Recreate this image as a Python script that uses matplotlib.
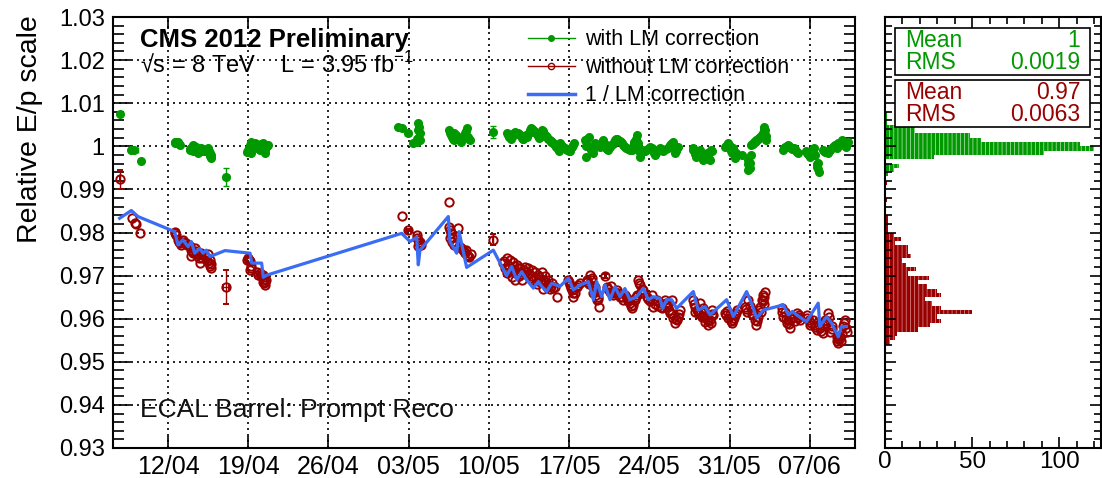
import datetime
import numpy as np
import matplotlib
matplotlib.use('Agg')
import matplotlib.pyplot as plt
import matplotlib.dates as mdates
from matplotlib.lines import Line2D
from matplotlib.patches import Rectangle
from matplotlib.ticker import MultipleLocator

plt.rcParams['font.family'] = ['Liberation Sans', 'DejaVu Sans']
plt.rcParams['mathtext.fontset'] = 'custom'
plt.rcParams['mathtext.rm'] = 'Liberation Sans'
plt.rcParams['hatch.linewidth'] = 0.6

# time in days since 12/04/2012
t0 = mdates.date2num(datetime.datetime(2012, 4, 12))

# E/p without laser monitoring correction
raw_day = [-3.17, -2.88, -2.75, -2.44,
           0.58, 0.73, 0.87, 1.02, 1.15, 1.31, 1.60, 1.89, 2.00, 2.04, 2.18, 2.33, 2.47, 2.62,
           2.76, 2.91, 3.00, 3.20, 3.40, 3.49, 3.64, 3.78, 3.78,
           6.87, 6.98, 7.13, 7.16, 7.27, 7.74, 7.88, 8.00, 8.15, 8.29, 8.29, 8.40, 8.44, 8.58,
           20.39, 21.70, 21.80, 21.85, 21.90, 22.00, 22.10,
           24.50, 24.55, 24.60, 24.65, 24.70, 24.80, 25.00, 25.33, 25.50, 25.70, 25.90, 26.00,
           26.10, 26.30, 26.40,
           29.27, 29.41, 29.56, 29.56, 29.85, 29.99, 30.00, 30.14, 30.28, 30.43, 30.57, 30.60,
           30.72, 30.87,
           31.16, 31.30, 31.45, 31.60, 31.74, 31.88, 32.03, 32.20, 32.32, 32.47, 32.61, 32.75,
           32.90, 33.05, 33.19, 33.30, 33.48, 33.77, 33.92,
           34.94, 35.08, 35.23, 35.37, 35.50, 35.66, 35.96,
           36.54, 36.70, 36.83, 36.97, 37.12, 37.26, 37.41, 37.56, 37.64,
           38.28, 38.57, 38.70, 38.86, 39.16, 39.30, 39.45, 39.74, 39.90, 40.03, 40.32, 40.46,
           40.60, 40.76, 40.90,
           41.05, 41.19, 41.30, 41.48,
           41.77, 42.06, 42.20, 42.36, 42.65, 42.80, 42.94, 43.08,
           43.37, 43.52, 43.65, 43.81, 43.95, 44.10, 44.25, 44.40, 44.54, 44.68,
           45.85, 45.99, 46.00, 46.28, 46.43, 46.57, 46.70, 46.86, 47.00, 47.15, 47.30, 47.45,
           47.59,
           48.61, 48.90, 49.00, 49.19, 49.30, 49.48, 49.63,
           50.35, 50.50, 50.64, 50.94, 51.08, 51.20, 51.31, 51.52, 51.66, 51.75, 51.81, 51.90,
           51.95, 52.10,
           53.55, 53.70, 53.84, 54.00, 54.13, 54.28, 54.57, 54.70, 54.86, 55.00, 55.15,
           55.73, 55.90, 56.03, 56.32, 56.45, 56.61,
           56.90, 57.13, 57.20, 57.33, 57.50, 57.63, 57.80, 57.92,
           58.35, 58.40, 58.50, 58.64, 58.80, 58.93, 59.08, 59.23,
           0.65, 0.95, 1.40, 1.70, 2.10, 2.40, 2.70, 3.10, 3.30, 3.55, 3.70,
           7.05, 7.20, 8.10, 8.35, 8.50, 21.75, 21.95, 24.75, 25.10, 25.60, 25.80, 26.20,
           29.35, 29.70, 29.90, 30.20, 30.35, 30.50, 30.80, 31.05, 31.20, 31.50, 31.80, 32.10,
           32.40, 32.55, 32.85, 33.00, 33.15, 33.40, 33.60,
           35.00, 35.15, 35.30, 35.80, 36.60, 36.90, 37.05, 37.20, 37.35, 37.50,
           38.40, 38.80, 39.05, 39.60, 40.15, 40.40, 40.85, 41.10, 41.40,
           41.90, 42.50, 42.70, 43.00, 43.45, 43.75, 44.00, 44.30, 44.60,
           45.90, 46.15, 46.35, 46.50, 46.80, 47.10, 47.35, 47.50,
           48.70, 48.80, 49.10, 49.40, 49.55,
           50.40, 50.75, 51.00, 51.40, 51.60, 52.00, 52.05,
           53.60, 53.90, 54.20, 54.40, 54.95, 55.10, 55.80, 56.15, 56.50,
           57.00, 57.40, 57.70, 57.95, 58.45, 58.55, 58.70, 59.00, 59.15]
raw_val = [0.9833, 0.9823, 0.9820, 0.9798,
           0.9802, 0.9794, 0.9783, 0.9775, 0.9770, 0.9783, 0.9775, 0.9768, 0.9745, 0.9760, 0.9752,
           0.9764, 0.9756, 0.9749, 0.9730, 0.9752, 0.9740, 0.9745, 0.9735, 0.9749, 0.9737,
           0.9726, 0.9718,
           0.9736, 0.9740, 0.9733, 0.9713, 0.9717, 0.9709, 0.9701, 0.9705, 0.9698, 0.9686,
           0.9701, 0.9692, 0.9678, 0.9690,
           0.9838, 0.9794, 0.9783, 0.9768, 0.9775, 0.9779, 0.9770,
           0.9813, 0.9871, 0.9805, 0.9787, 0.9800, 0.9778, 0.9771, 0.9810, 0.9767, 0.9760,
           0.9752, 0.9760, 0.9748, 0.9743, 0.9750,
           0.9729, 0.9718, 0.9740, 0.9705, 0.9736, 0.9697, 0.9715, 0.9732, 0.9690, 0.9725,
           0.9709, 0.9700, 0.9717, 0.9690,
           0.9721, 0.9701, 0.9717, 0.9695, 0.9713, 0.9690, 0.9709, 0.9680, 0.9701, 0.9686,
           0.9709, 0.9668, 0.9698, 0.9674, 0.9690, 0.9668, 0.9682, 0.9674, 0.9651,
           0.9690, 0.9678, 0.9667, 0.9651, 0.9660, 0.9674, 0.9682,
           0.9690, 0.9680, 0.9701, 0.9694, 0.9659, 0.9674, 0.9643, 0.9651, 0.9628,
           0.9674, 0.9663, 0.9675, 0.9655, 0.9667, 0.9660, 0.9651, 0.9643, 0.9655, 0.9647,
           0.9636, 0.9624, 0.9632, 0.9643, 0.9655,
           0.9690, 0.9678, 0.9660, 0.9667,
           0.9651, 0.9640, 0.9655, 0.9628, 0.9643, 0.9630, 0.9636, 0.9624,
           0.9643, 0.9628, 0.9635, 0.9613, 0.9643, 0.9601, 0.9589, 0.9597, 0.9605, 0.9620,
           0.9643, 0.9628, 0.9615, 0.9616, 0.9636, 0.9605, 0.9625, 0.9593, 0.9600, 0.9586,
           0.9597, 0.9620, 0.9609,
           0.9613, 0.9601, 0.9612, 0.9589, 0.9598, 0.9609, 0.9620,
           0.9628, 0.9615, 0.9644, 0.9620, 0.9609, 0.9598, 0.9586, 0.9605, 0.9628, 0.9615,
           0.9644, 0.9640, 0.9655, 0.9663,
           0.9624, 0.9605, 0.9616, 0.9590, 0.9597, 0.9578, 0.9605, 0.9595, 0.9613, 0.9605,
           0.9597,
           0.9609, 0.9598, 0.9586, 0.9597, 0.9585, 0.9574,
           0.9578, 0.9566, 0.9585, 0.9597, 0.9595, 0.9613, 0.9570, 0.9582,
           0.9558, 0.9548, 0.9543, 0.9555, 0.9565, 0.9582, 0.9597, 0.9570,
           0.9798, 0.9779, 0.9778, 0.9770, 0.9756, 0.9750, 0.9740, 0.9748, 0.9742, 0.9730,
           0.9722,
           0.9736, 0.9722, 0.9702, 0.9682, 0.9685, 0.9788, 0.9772, 0.9790, 0.9770, 0.9763,
           0.9756, 0.9745,
           0.9735, 0.9725, 0.9710, 0.9722, 0.9705, 0.9718, 0.9703, 0.9712, 0.9708, 0.9705,
           0.9700, 0.9695, 0.9697, 0.9690, 0.9688, 0.9685, 0.9678, 0.9675, 0.9672,
           0.9685, 0.9672, 0.9660, 0.9678, 0.9685, 0.9690, 0.9675, 0.9665, 0.9655, 0.9645,
           0.9668, 0.9660, 0.9662, 0.9650, 0.9640, 0.9630, 0.9650, 0.9683, 0.9670,
           0.9646, 0.9635, 0.9640, 0.9628, 0.9636, 0.9620, 0.9610, 0.9600, 0.9612,
           0.9635, 0.9620, 0.9610, 0.9615, 0.9605, 0.9595, 0.9590, 0.9612,
           0.9608, 0.9618, 0.9595, 0.9602, 0.9614,
           0.9622, 0.9630, 0.9612, 0.9595, 0.9620, 0.9650, 0.9635,
           0.9615, 0.9600, 0.9588, 0.9600, 0.9602, 0.9608, 0.9602, 0.9590, 0.9580,
           0.9572, 0.9590, 0.9605, 0.9575, 0.9552, 0.9560, 0.9548, 0.9590, 0.9578]

# isolated runs drawn with their uncertainties
raw_err_day = [-4.22, 5.03, 20.97, 28.39, 38.14]
raw_err_val = [0.9923, 0.9674, 0.9806, 0.9783, 0.9699]
raw_err_dx = [0.0, 0.25, 0.2, 0.0, 0.0]
raw_err_dy = [0.0022, 0.0039, 0.0002, 0.0013, 0.0004]

# E/p with laser monitoring correction
corr_day = [-3.20, -2.33,
            0.58, 0.73, 0.87, 1.02, 1.89, 2.04, 2.18, 2.18, 2.33, 2.47, 2.62, 2.76, 2.91, 3.06,
            3.20, 3.35, 3.49, 3.64, 3.78, 3.78,
            6.98, 7.13, 7.27, 7.27, 7.42, 7.56, 7.70, 7.85, 8.00, 8.15, 8.29, 8.44, 8.58, 8.70,
            20.10, 20.39,
            21.70, 21.80, 21.84, 21.90, 21.95, 22.00,
            24.55, 24.70, 24.80, 25.00, 25.00, 25.30, 25.60, 25.90, 26.10, 26.20, 26.35,
            29.55, 29.75, 29.90, 30.10, 30.30, 30.50, 30.70, 30.85, 31.00, 31.15, 31.30, 31.50,
            31.70, 31.85, 32.00, 32.20, 32.50, 32.60, 32.75, 32.90, 33.10, 33.30, 33.45, 33.60,
            33.75, 33.90, 34.10, 34.20, 34.40, 34.60, 34.85, 35.10, 35.25, 35.40,
            36.40, 36.50, 36.70, 36.80, 37.10, 37.30, 37.50, 37.70, 37.85, 38.00, 38.20, 38.40,
            38.55, 38.70, 38.90, 39.05, 39.20, 39.40, 39.60, 39.80, 40.00, 40.20, 40.50, 40.70,
            40.90, 41.00, 41.20, 41.40, 41.60, 41.85, 42.10, 42.30, 42.50, 42.70, 42.90, 43.05,
            43.20, 43.45, 43.70, 43.90, 44.10, 44.20, 44.35, 44.50,
            45.80, 45.95, 46.10, 46.25, 46.40, 46.55, 46.70, 46.85, 47.00, 47.15, 47.30, 47.40,
            48.60, 48.75, 48.90, 49.05, 49.20, 49.30, 49.50, 49.60, 50.10,
            50.60, 50.60, 50.70, 50.80, 50.90, 51.05, 51.20, 51.35, 51.50, 51.65, 51.80, 51.95,
            52.00, 52.10, 52.20,
            53.70, 53.85, 54.00, 54.10, 54.30, 54.45, 54.60, 54.80, 55.00,
            55.70, 55.85, 56.00, 56.20, 56.40, 56.60, 56.70, 56.80,
            57.20, 57.35, 57.60, 57.80, 58.00, 58.20, 58.35, 58.50, 58.65, 58.80, 59.00, 59.20,
            59.30,
            0.65, 0.80, 0.95, 1.95, 2.10, 2.25, 2.40, 2.55, 2.70, 2.85, 3.00, 3.15, 3.30, 3.45,
            3.55, 3.70,
            7.05, 7.20, 7.35, 7.50, 7.65, 7.80, 7.95, 8.10, 8.22, 8.35, 8.50, 8.65,
            21.75, 21.85, 24.60, 24.90, 25.15, 25.45, 25.75, 26.00, 26.25,
            29.65, 29.80, 30.00, 30.20, 30.40, 30.60, 30.80, 30.95, 31.10, 31.25, 31.40, 31.60,
            31.75, 31.95, 32.10, 32.30, 32.40, 32.55, 32.70, 32.85, 33.00, 33.20, 33.40, 33.55,
            33.70, 33.85, 34.00, 34.30, 34.50, 34.70, 35.00, 35.35,
            36.45, 36.60, 36.90, 37.00, 37.20, 37.40, 37.60, 37.95, 38.10, 38.30, 38.80, 39.10,
            39.30, 39.50, 39.70, 39.90, 40.10, 40.35, 40.60, 40.80, 41.10, 41.30, 41.50, 41.70,
            41.95, 42.20, 42.40, 42.60, 42.80, 43.00, 43.30, 43.60, 43.80, 44.00, 44.30, 44.45,
            45.85, 46.00, 46.20, 46.35, 46.50, 46.65, 46.80, 46.95, 47.10, 47.25, 47.45,
            48.70, 48.85, 49.00, 49.15, 49.40, 49.55,
            50.65, 50.75, 50.85, 51.00, 51.15, 51.30, 51.45, 51.60, 51.75, 51.90, 52.05, 52.15,
            53.75, 53.95, 54.20, 54.40, 54.55, 54.70, 54.90,
            55.75, 55.95, 56.10, 56.30, 56.50, 56.65, 56.75,
            57.25, 57.45, 57.70, 57.90, 58.10, 58.30, 58.45, 58.60, 58.75, 58.90, 59.10, 59.25]
corr_val = [0.9991, 0.9967,
            1.0007, 1.0011, 1.0009, 1.0003, 0.9991, 0.9995, 1.0003, 0.9988, 0.9999, 0.9999,
            0.9984, 0.9991, 0.9995, 0.9988, 0.9991, 0.9988, 0.9995, 0.9984, 0.9972, 0.9980,
            0.9991, 1.0003, 1.0011, 0.9984, 0.9995, 1.0007, 1.0003, 0.9995, 0.9991, 1.0005,
            1.0007, 0.9984, 0.9999, 1.0003,
            1.0045, 1.0042,
            1.0011, 1.0020, 1.0053, 1.0045, 1.0015, 1.0030,
            1.0038, 1.0026, 1.0022, 1.0015, 1.0030, 1.0022, 1.0011, 1.0030, 1.0042, 1.0022,
            1.0015,
            1.0030, 1.0024, 1.0018, 1.0028, 1.0034, 1.0030, 1.0026, 1.0020, 1.0018, 1.0024,
            1.0022, 1.0032, 1.0042, 1.0038, 1.0034, 1.0028, 1.0022, 1.0038, 1.0032, 1.0026,
            1.0022, 1.0015, 1.0011, 1.0007, 1.0003, 0.9999, 0.9988, 1.0007, 1.0001, 0.9996,
            0.9992, 0.9988, 0.9998, 1.0007,
            1.0015, 0.9976, 1.0022, 0.9999, 0.9984, 1.0007, 1.0001, 0.9999, 1.0008, 1.0015,
            0.9996, 0.9991, 0.9998, 1.0003, 1.0010, 1.0014, 1.0018, 1.0012, 1.0007, 1.0000,
            0.9996, 0.9993, 0.9991, 1.0010, 1.0026, 1.0007, 0.9976, 0.9992, 0.9988, 0.9994,
            0.9999, 0.9990, 0.9980, 0.9988, 0.9996, 0.9992, 0.9988, 0.9994, 0.9999, 1.0005,
            1.0011, 0.9984, 0.9992, 0.9999,
            0.9996, 0.9986, 0.9976, 0.9984, 0.9991, 0.9980, 0.9968, 0.9976, 0.9984, 0.9975,
            0.9968, 0.9991,
            0.9999, 1.0003, 1.0007, 0.9995, 0.9984, 0.9996, 0.9972, 0.9985, 0.9980,
            0.9968, 0.9945, 0.9957, 0.9962, 1.0003, 1.0006, 1.0011, 1.0014, 1.0018, 1.0022,
            1.0026, 1.0030, 1.0045, 1.0038, 1.0015,
            0.9991, 0.9998, 1.0000, 1.0003, 0.9999, 0.9994, 0.9996, 0.9990, 0.9984,
            0.9988, 0.9982, 0.9976, 0.9990, 0.9996, 0.9953, 0.9962, 0.9941,
            0.9991, 0.9987, 0.9984, 0.9992, 0.9999, 1.0002, 0.9996, 1.0007, 1.0003, 1.0015,
            1.0005, 0.9999, 1.0010,
            1.0009, 1.0010, 1.0006, 0.9993, 0.9999, 1.0001, 0.9996, 0.9991, 0.9988, 0.9993,
            0.9992, 0.9989, 0.9990, 0.9992, 0.9990, 0.9978,
            0.9997, 1.0007, 0.9998, 1.0001, 1.0005, 0.9999, 0.9993, 0.9998, 1.0006, 0.9995,
            0.9992, 1.0001,
            1.0016, 1.0038, 1.0032, 1.0018, 1.0026, 1.0016, 1.0020, 1.0036, 1.0018,
            1.0027, 1.0021, 1.0022, 1.0031, 1.0032, 1.0028, 1.0023, 1.0016, 1.0020, 1.0026,
            1.0028, 1.0038, 1.0040, 1.0036, 1.0031, 1.0025, 1.0020, 1.0030, 1.0035, 1.0028,
            1.0024, 1.0018, 1.0013, 1.0009, 1.0005, 1.0001, 0.9994, 1.0004, 0.9998, 0.9994,
            0.9990, 1.0003,
            1.0000, 1.0018, 0.9992, 0.9988, 0.9995, 1.0004, 1.0000, 1.0012, 1.0005, 0.9993,
            1.0006, 1.0016, 1.0015, 1.0010, 1.0003, 0.9998, 0.9994, 0.9992, 1.0000, 1.0018,
            0.9990, 0.9984, 0.9990, 0.9991, 0.9997, 0.9995, 0.9985, 0.9984, 0.9992, 0.9994,
            0.9991, 0.9996, 1.0002, 1.0008, 0.9988, 0.9996,
            0.9992, 0.9981, 0.9980, 0.9988, 0.9985, 0.9972, 0.9972, 0.9980, 0.9978, 0.9971,
            0.9988,
            1.0001, 1.0005, 1.0001, 0.9990, 0.9990, 0.9978,
            0.9960, 0.9950, 0.9980, 1.0005, 1.0009, 1.0012, 1.0016, 1.0020, 1.0024, 1.0028,
            1.0040, 1.0025,
            0.9995, 0.9999, 1.0001, 0.9996, 0.9995, 0.9993, 0.9987,
            0.9985, 0.9979, 0.9983, 0.9993, 0.9980, 0.9958, 0.9948,
            0.9989, 0.9986, 0.9988, 0.9996, 1.0000, 0.9999, 1.0003, 1.0005, 1.0010, 1.0010,
            1.0002, 1.0005]

corr_err_day = [-4.22, -2.95, 5.03, 6.85, 20.97, 21.40, 28.39]
corr_err_val = [1.0075, 0.9992, 0.9928, 0.9986, 1.0030, 1.0008, 1.0034]
corr_err_dx = [0.0, 0.3, 0.25, 0.25, 0.25, 0.25, 0.0]
corr_err_dy = [0.0003, 0.0002, 0.0021, 0.0002, 0.0002, 0.0002, 0.0014]

# 1 / laser monitoring correction
lm_day = [-4.22, -3.20, -2.62, 0.58, 0.87, 1.30, 1.75, 2.04, 2.33, 2.76, 3.06, 3.35, 3.66,
          4.97, 7.16, 7.30, 8.17, 8.32, 8.61,
          20.39, 21.12, 21.70, 21.84, 21.99, 24.46, 24.60, 25.19, 25.40, 26.06, 28.39,
          29.55, 29.99, 30.43, 30.87, 31.30, 31.88, 32.32, 32.61, 33.04, 33.48, 34.21, 34.93,
          35.37, 35.95, 36.68, 37.12, 37.41, 37.84, 38.13, 38.57, 39.00, 39.44, 39.87, 40.30,
          40.90, 41.48, 41.91, 42.35, 42.93, 43.17, 43.51, 43.95, 44.38, 45.84, 46.27, 46.86,
          47.30, 48.75, 49.33, 50.49, 50.93, 51.37, 51.95, 53.69, 54.14, 54.50, 54.85, 55.72,
          56.74, 56.88, 57.47, 57.90, 58.49, 58.77, 59.20]
lm_val = [0.9833, 0.9851, 0.9837, 0.9802, 0.9771, 0.9783, 0.9767, 0.9779, 0.9752, 0.9763,
          0.9752, 0.9759, 0.9744, 0.9758, 0.9752, 0.9729, 0.9729, 0.9696, 0.9701,
          0.9798, 0.9779, 0.9789, 0.9725, 0.9759, 0.9837, 0.9779, 0.9752, 0.9802, 0.9719,
          0.9759,
          0.9700, 0.9721, 0.9690, 0.9709, 0.9690, 0.9671, 0.9686, 0.9675, 0.9663, 0.9682,
          0.9675, 0.9694, 0.9667, 0.9678, 0.9686, 0.9644, 0.9686, 0.9651, 0.9678, 0.9644,
          0.9674, 0.9651, 0.9670, 0.9644, 0.9651, 0.9671, 0.9644, 0.9651, 0.9647, 0.9624,
          0.9644, 0.9644, 0.9624, 0.9663, 0.9620, 0.9628, 0.9609, 0.9644, 0.9605, 0.9663,
          0.9635, 0.9601, 0.9620, 0.9632, 0.9609, 0.9617, 0.9609, 0.9593, 0.9636, 0.9582,
          0.9605, 0.9590, 0.9558, 0.9582, 0.9582]

# projections, 0.001 wide bins starting at the given lower edge
corr_hist_lo = 0.993
corr_hist = [2, 5, 8, 0, 28, 91, 120, 112, 55, 49, 17, 17, 1, 1, 1]
raw_hist_lo = 0.954
raw_hist = [3, 6, 7, 19, 26, 32, 30, 50, 32, 27, 23, 32, 30, 24, 19, 25, 13, 18, 12, 10,
            15, 13, 13, 6, 9, 5, 2, 2, 2, 2, 0, 0, 0, 1, 0, 0, 0, 1]
bin_w = 0.001

corr_stats = ['1', '0.0019']
raw_stats = ['0.97', '0.0063']

green = '#009900'
red = '#990000'
blue = '#3a6cf4'

fig = plt.figure(figsize=(11.02, 4.78), dpi=100)
ax = fig.add_axes([113/1102, 30/478, 742/1102, 431/478])
axh = fig.add_axes([885/1102, 30/478, 216/1102, 431/478])

# main time series
ax.plot(t0 + np.array(raw_day), raw_val, 'o', ms=6, mfc='none', mec=red, mew=1.4, zorder=3)
ax.errorbar(t0 + np.array(raw_err_day), raw_err_val, xerr=raw_err_dx, yerr=raw_err_dy,
            fmt='o', ms=6, mfc='none', mec=red, mew=1.4, ecolor=red, elinewidth=1,
            capsize=2.5, zorder=3)
ax.plot(t0 + np.array(corr_day), corr_val, 'o', ms=5.5, color=green, mec=green, zorder=4)
ax.errorbar(t0 + np.array(corr_err_day), corr_err_val, xerr=corr_err_dx, yerr=corr_err_dy,
            fmt='o', ms=5.5, color=green, ecolor=green, elinewidth=1, capsize=2.5, zorder=4)
ax.plot(t0 + np.array(lm_day), lm_val, '-', color=blue, lw=2.3, zorder=5)

ax.set_xlim(t0 - 4.8, t0 + 59.95)
ax.set_ylim(0.93, 1.03)
ax.xaxis.set_major_locator(mdates.WeekdayLocator(byweekday=mdates.TH))
ax.xaxis.set_major_formatter(mdates.DateFormatter('%d/%m'))
ax.yaxis.set_major_locator(MultipleLocator(0.01))
ax.yaxis.set_minor_locator(MultipleLocator(0.002))
ax.yaxis.set_major_formatter(plt.FuncFormatter(lambda v, p: '%g' % round(v, 2)))
ax.tick_params(axis='both', which='both', direction='in', top=True, right=True, width=1.2)
ax.tick_params(axis='y', which='major', length=13, pad=6, labelsize=17)
ax.tick_params(axis='y', which='minor', length=8)
ax.tick_params(axis='x', which='major', length=8.5, pad=5, labelsize=18)
ax.grid(True, which='major', color='black', linestyle=(0, (1.2, 2.4)), linewidth=1.2)
ax.set_axisbelow(True)
for s in ax.spines.values():
    s.set_linewidth(1.5)

fig.text(30/1102, 1 - 15/478, 'Relative E/p scale', rotation=90, ha='center', va='top',
         fontsize=20.5)
ax.text(0.036, 0.947, 'CMS 2012 Preliminary', transform=ax.transAxes, fontsize=18.5,
        fontweight='bold', va='center', ha='left')
ax.text(0.036, 0.890, '√s = 8 TeV    L = 3.95 fb$^{\\mathregular{-1}}$', transform=ax.transAxes,
        fontsize=17, va='center', ha='left')
ax.text(0.036, 0.088, 'ECAL Barrel: Prompt Reco', transform=ax.transAxes, fontsize=19,
        va='center', ha='left', color='#111111')

handles = [Line2D([], [], color=green, marker='o', ms=4, lw=1),
           Line2D([], [], color=red, marker='o', ms=4.5, mfc='none', lw=1),
           Line2D([], [], color=blue, lw=2.5)]
ax.legend(handles, ['with LM correction', 'without LM correction', '1 / LM correction'],
          loc='upper left', bbox_to_anchor=(0.559, 0.972), frameon=False, fontsize=15.5,
          handlelength=2.2, handletextpad=0.45, labelspacing=0.33, borderpad=0,
          borderaxespad=0)

# projection panel
axh.barh(corr_hist_lo + bin_w * np.arange(len(corr_hist)), corr_hist, height=bin_w,
         align='edge', color=green, edgecolor='#9fdc9f', linewidth=0, hatch='||||')
axh.barh(raw_hist_lo + bin_w * np.arange(len(raw_hist)), raw_hist, height=bin_w,
         align='edge', color=red, edgecolor='#d27a7a', linewidth=0, hatch='||||')
axh.set_ylim(0.93, 1.03)
axh.set_xlim(0, 124)
axh.yaxis.set_major_locator(MultipleLocator(0.01))
axh.yaxis.set_minor_locator(MultipleLocator(0.002))
axh.xaxis.set_major_locator(MultipleLocator(50))
axh.xaxis.set_minor_locator(MultipleLocator(10))
axh.tick_params(axis='both', which='both', direction='in', top=True, right=True,
                labelleft=False, labelsize=17.5, width=1.2)
axh.tick_params(axis='both', which='major', length=8)
axh.tick_params(axis='both', which='minor', length=5)
axh.tick_params(axis='x', pad=2)
for s in axh.spines.values():
    s.set_linewidth(1.5)

# statistics boxes
for (y0, y1, col, vals) in [(0.8654, 0.9745, green, corr_stats),
                            (0.7448, 0.8538, red, raw_stats)]:
    axh.add_patch(Rectangle((0.046, y0), 0.903, y1 - y0, transform=axh.transAxes,
                            facecolor='white', edgecolor='black', lw=1.2, zorder=6))
    ya = y1 - (y1 - y0) * 0.27
    yb = y0 + (y1 - y0) * 0.27
    axh.text(0.093, ya, 'Mean', transform=axh.transAxes, color=col, fontsize=16.5,
             va='center', ha='left', zorder=7)
    axh.text(0.905, ya, vals[0], transform=axh.transAxes, color=col, fontsize=16.5,
             va='center', ha='right', zorder=7)
    axh.text(0.093, yb, 'RMS', transform=axh.transAxes, color=col, fontsize=16.5,
             va='center', ha='left', zorder=7)
    axh.text(0.905, yb, vals[1], transform=axh.transAxes, color=col, fontsize=16.5,
             va='center', ha='right', zorder=7)

fig.savefig('out.png', dpi=100)
